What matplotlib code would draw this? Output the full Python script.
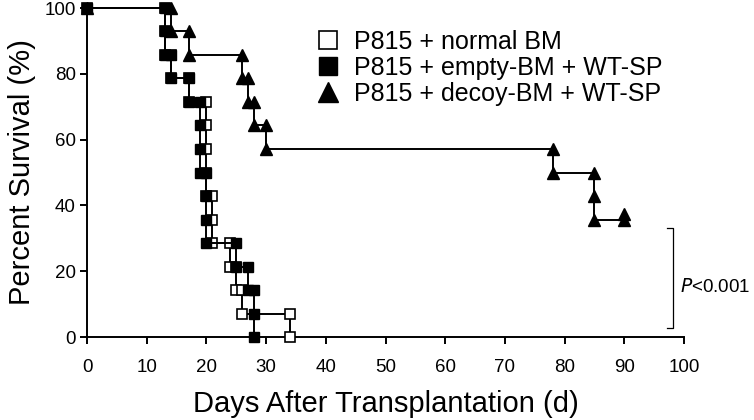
import matplotlib
matplotlib.use("Agg")
import matplotlib.pyplot as plt
from matplotlib.lines import Line2D

plt.rcParams['font.family'] = ['Liberation Sans', 'DejaVu Sans']

# step points (day, % survival), in drawing order
normal_days = [0, 13, 13, 13, 14, 14, 17, 17, 20, 20, 20, 20, 20, 21, 21, 21, 24, 24, 25, 25, 26, 26, 34, 34]
normal_surv = [100, 100, 92.9, 85.7, 85.7, 78.6, 78.6, 71.4, 71.4, 64.3, 57.1, 50, 42.9, 42.9, 35.7, 28.6,
               28.6, 21.4, 21.4, 14.3, 14.3, 7.1, 7.1, 0]

empty_days = [0, 13, 13, 13, 14, 14, 17, 17, 19, 19, 19, 19, 20, 20, 20, 20, 25, 25, 27, 27, 28, 28, 28]
empty_surv = [100, 100, 92.9, 85.7, 85.7, 78.6, 78.6, 71.4, 71.4, 64.3, 57.1, 50, 50, 42.9, 35.7, 28.6,
              28.6, 21.4, 21.4, 14.3, 14.3, 7.1, 0]

decoy_days = [0, 14, 14, 17, 17, 26, 26, 27, 27, 28, 28, 30, 30, 78, 78, 85, 85, 85, 90]
decoy_surv = [100, 100, 92.9, 92.9, 85.7, 85.7, 78.6, 78.6, 71.4, 71.4, 64.3, 64.3, 57.1, 57.1, 50,
              50, 42.9, 35.7, 35.7]
decoy_cens_days = [90]
decoy_cens_surv = [37.5]

labels = ['P815 + normal BM', 'P815 + empty-BM + WT-SP', 'P815 + decoy-BM + WT-SP']

fig = plt.figure(figsize=(7.54, 4.2), dpi=100)
ax = fig.add_axes([0.1154, 0.1976, 0.7918, 0.7833])

ax.plot(normal_days, normal_surv, color='black', lw=1.4, marker='s', ms=6.5, mfc='white',
        mec='black', mew=1.2, clip_on=False, zorder=3)
ax.plot(empty_days, empty_surv, color='black', lw=1.4, marker='s', ms=7, mfc='black',
        mec='black', clip_on=False, zorder=4)
ax.plot(decoy_days, decoy_surv, color='black', lw=1.4, marker='^', ms=8, mfc='black',
        mec='black', clip_on=False, zorder=5)
ax.plot(decoy_cens_days, decoy_cens_surv, ls='none', marker='^', ms=8, color='black',
        clip_on=False, zorder=5)

ax.set_xlim(0, 100)
ax.set_ylim(0, 100)
ax.set_xticks(range(0, 101, 10))
ax.set_yticks(range(0, 101, 20))
ax.spines['top'].set_visible(False)
ax.spines['right'].set_visible(False)
for s in ['left', 'bottom']:
    ax.spines[s].set_linewidth(1.4)
ax.tick_params(axis='both', direction='out', length=5, width=1.4, labelsize=13.5)
ax.tick_params(axis='x', pad=11)
ax.tick_params(axis='y', pad=3)

ax.set_xlabel('Days After Transplantation (d)', fontsize=21, labelpad=10)
ax.set_ylabel('Percent Survival (%)', fontsize=21, labelpad=6)

# significance bracket
ax.plot([97.2, 98.2, 98.2, 97.2], [33.1, 33.1, 2.7, 2.7], color='black', lw=0.9, clip_on=False)
ax.text(99.3, 15.2, r'$\it{P}$<0.001', fontsize=13.5, va='center', ha='left', clip_on=False)

handles = [
    Line2D([], [], ls='none', marker='s', ms=13, mfc='white', mec='black', mew=1.2),
    Line2D([], [], ls='none', marker='s', ms=13, mfc='black', mec='black'),
    Line2D([], [], ls='none', marker='^', ms=14, mfc='black', mec='black'),
]
fig.legend(handles, labels, loc='upper left', bbox_to_anchor=(0.418, 0.928), frameon=False,
           fontsize=18, labelspacing=0.08, handlelength=1.0, handletextpad=0.55,
           borderpad=0, borderaxespad=0)

fig.savefig('out.png', dpi=100)
